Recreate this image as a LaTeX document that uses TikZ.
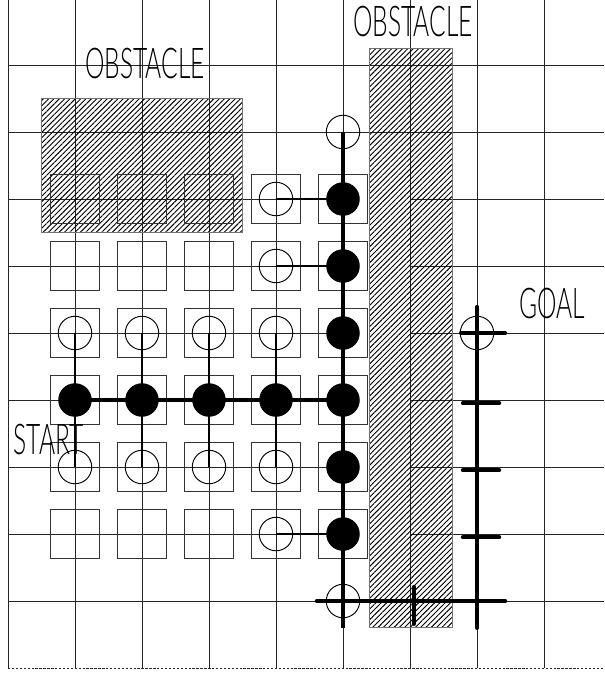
\documentclass[tikz,border=0pt]{standalone}
\usepackage{fontspec}
\newfontfamily\cadfont[FakeStretch=0.58]{Lato Light}
\usetikzlibrary{patterns.meta}

\begin{document}
\begin{tikzpicture}[x=1.5cm, y=-1.5cm,
  gridline/.style={line width=0.6pt, black!85},
  cellbox/.style={draw, black!80, line width=0.6pt, minimum size=1.11cm, inner sep=0pt},
  opennode/.style={draw, circle, line width=0.6pt, minimum size=0.75cm, inner sep=0pt},
  closednode/.style={circle, fill=black, minimum size=0.75cm, inner sep=0pt},
  obstacle/.style={draw=black!55, line width=0.6pt, pattern={Lines[angle=45, distance=2.4pt, line width=0.6pt]}},
  pathline/.style={line width=2.1pt},
  branch/.style={line width=1.7pt},
  sidelink/.style={line width=1.3pt},
  route/.style={line width=2.7pt, line cap=round},
  notetext/.style={font=\cadfont\fontsize{27}{27}\selectfont, inner sep=0pt, anchor=base}]
  \useasboundingbox (-0.119,-0.970) rectangle (8.896,9.104);

  \foreach \c in {0,...,8} \draw[gridline] (\c,-0.970) -- (\c,9);
  \foreach \r in {0,1,8} \draw[gridline] (0,\r) -- (8.896,\r);
  \foreach \r in {2,...,7} {
    \draw[gridline] (0,\r) -- (5,\r);
    \draw[gridline] (6,\r) -- (8.896,\r);
  }
  \draw[gridline, dash pattern=on 1.5pt off 1pt] (0,9) -- (8.896,9);

  \draw[obstacle] (0.5,0.5) rectangle (3.5,2.5);
  \draw[obstacle] (5.4,-0.25) rectangle (6.64,8.4);

  \foreach \c in {1,...,5}
    \foreach \r in {2,...,7}
      \node[cellbox] (b-\c-\r) at (\c,\r) {};

  \foreach \c in {1,...,4} {
    \node[opennode] (o-\c-4) at (\c,4) {};
    \node[opennode] (o-\c-6) at (\c,6) {};
    \node[closednode] (c-\c-5) at (\c,5) {};
  }
  \foreach \r in {2,3,7} \node[opennode] (o-4-\r) at (4,\r) {};
  \foreach \r in {2,...,7} \node[closednode] (c-5-\r) at (5,\r) {};
  \node[opennode] (o-5-1) at (5,1) {};
  \node[opennode] (o-5-8) at (5,8) {};
  \node[opennode] (goal) at (7,4) {};

  \coordinate (pathend) at (5,8.4);
  \coordinate (goaltop) at (7,3.61);
  \coordinate (goalend) at (7,8.4);

  \draw[pathline] (o-5-1.center) -- (pathend);
  \draw[pathline] (c-1-5.center) -- (c-5-5.center);
  \foreach \c in {1,...,4}
    \draw[branch] (o-\c-4.center) -- (c-\c-5.center) -- (o-\c-6.center);
  \foreach \r in {2,3,7}
    \draw[sidelink] (o-4-\r.center) -- (c-5-\r.center);

  \draw[route] (goaltop) -- (goalend);
  \draw[route] (goal.center) ++(-0.24,0) -- ++(0.66,0);
  \foreach \r in {5,6,7}
    \draw[route] (6.79,\r+0.05) -- (7.33,\r+0.05);
  \draw[route] (o-5-8.center) ++(-0.39,0) -- ++(2.81,0);
  \draw[route] (6.06,7.79) -- (6.06,8.34);

  \node[notetext] (obs1label) at (2.045,0.209) {OBSTACLE};
  \node[notetext] (obs2label) at (6.045,-0.418) {OBSTACLE};
  \node[notetext] (goallabel) at (8.12,3.776) {GOAL};
  \node[notetext] (startlabel) at (0.604,5.806) {START};
\end{tikzpicture}
\end{document}
